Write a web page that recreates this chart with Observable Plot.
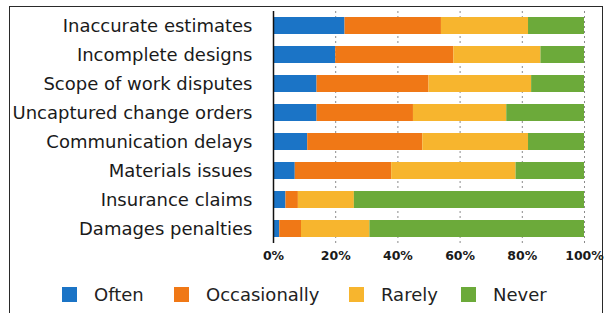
<!DOCTYPE html>
<html>
<head>
<meta charset="utf-8">
<script src="https://cdn.jsdelivr.net/npm/d3@7"></script>
<script src="https://cdn.jsdelivr.net/npm/@observablehq/plot@0.6"></script>
<style>
  html, body { margin: 0; padding: 0; background: #fff; }
  #wrap { position: relative; width: 606px; height: 313px; overflow: hidden; font-family: "DejaVu Sans", Verdana, sans-serif; }
  #box { position: absolute; left: 9px; top: 6px; width: 594px; height: 330px; border: 1.5px solid #2a2a2a; box-sizing: border-box; }
  #chart { position: absolute; left: 0; top: 0; }
  .leg { position: absolute; top: 284px; display: flex; align-items: center; font-size: 18px; color: #222; height: 20px; }
  .sw { width: 15px; height: 15px; margin-right: 17px; }
</style>
</head>
<body>
<div id="wrap">
  <div id="box"></div>
  <div id="chart"></div>
  <div id="legend"></div>
</div>
<script>
const items = ["Inaccurate estimates","Incomplete designs","Scope of work disputes","Uncaptured change orders","Communication delays","Materials issues","Insurance claims","Damages penalties"];
const responses = ["Often","Occasionally","Rarely","Never"];
const often        = [23, 20, 14, 14, 11, 7, 4, 2];
const occasionally = [31, 38, 36, 31, 37, 31, 4, 7];
const rarely       = [28, 28, 33, 30, 34, 40, 18, 22];
const never        = [18, 14, 17, 25, 18, 22, 74, 69];
const colors = ["#1b74c6", "#f07816", "#f7b52e", "#6caa3a"];
const xTicks = [0, 20, 40, 60, 80, 100];

const series = [often, occasionally, rarely, never];
const data = [];
items.forEach((item, i) => {
  responses.forEach((r, j) => data.push({item, response: r, value: series[j][i]}));
});

const chart = Plot.plot({
  width: 606,
  height: 270,
  marginLeft: 273,
  marginRight: 22,
  marginTop: 11,
  marginBottom: 27,
  style: {fontFamily: "DejaVu Sans, Verdana, sans-serif", color: "#1a1a1a", background: "transparent"},
  x: {domain: [0, 100]},
  y: {domain: items, paddingInner: 0.41, paddingOuter: 0.2},
  color: {domain: responses, range: colors},
  marks: [
    Plot.gridX(xTicks.slice(1), {stroke: "#8a8a8a", strokeOpacity: 1, strokeDasharray: "2,3"}),
    Plot.barX(data, Plot.stackX({x: "value", y: "item", fill: "response", order: responses})),
    Plot.ruleX([0], {stroke: "#111", strokeWidth: 1.5}),
    Plot.axisY({tickSize: 0, tickPadding: 21, fontSize: 18, label: null}),
    Plot.axisX(xTicks, {tickSize: 0, tickPadding: 8, fontSize: 12.5, fontWeight: "bold", tickFormat: d => d + "%", label: null})
  ]
});
document.getElementById("chart").appendChild(chart);

const legendX = [62, 174, 349, 461];
const legend = document.getElementById("legend");
responses.forEach((r, i) => {
  const d = document.createElement("div");
  d.className = "leg";
  d.style.left = legendX[i] + "px";
  const sw = document.createElement("div");
  sw.className = "sw";
  sw.style.background = colors[i];
  const t = document.createElement("span");
  t.textContent = r;
  d.appendChild(sw);
  d.appendChild(t);
  legend.appendChild(d);
});
</script>
</body>
</html>
